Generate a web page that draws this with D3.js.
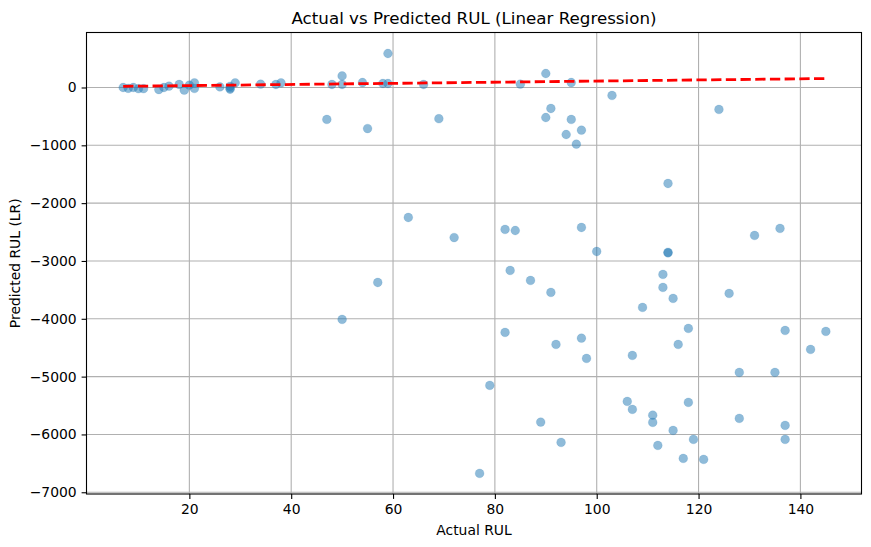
<!DOCTYPE html>
<html>
<head>
<meta charset="utf-8">
<script src="https://cdn.jsdelivr.net/npm/d3@7"></script>
<style>
  body { margin: 0; background: #fff; }
  text { font-family: "DejaVu Sans", sans-serif; }
</style>
</head>
<body>
<script>
// actual RUL vs predicted RUL (linear regression)
var actual = [7, 8, 9, 10, 11, 14, 15, 16, 18, 19, 20, 21, 21, 26, 28, 28, 28, 29, 34, 37, 38,
              47, 48, 50, 50, 54, 55, 58, 59, 59, 66, 69,
              85, 90, 95, 91, 90, 95, 97, 94, 96, 103, 124, 114,
              63, 57, 50, 72, 82, 84, 97, 100, 114, 114, 131, 136,
              83, 87, 91, 113, 113, 115, 109, 126,
              82, 92, 97, 98, 107, 116, 118, 137, 145, 142, 128, 135, 79,
              106, 107, 118, 111, 111, 128, 137, 137, 115, 119, 112, 117, 121, 89, 93, 77];
var predicted = [0, -15, 0, -20, -20, -35, 0, 22, 52, -47, 40, 80, -17, 10, 20, -10, -30, 80, 57, 52, 80,
                 -553, 52, 200, 52, 86, -710, 69, 588, 69, 52, -540,
                 57, 242, 86, -363, -519, -553, -738, -813, -980, -138, -380, -1660,
                 -2248, -3372, -4011, -2595, -2455, -2473, -2421, -2836, -2860, -2850, -2559, -2438,
                 -3164, -3337, -3544, -3233, -3458, -3648, -3804, -3562,
                 -4236, -4444, -4335, -4686, -4634, -4444, -4167, -4202, -4219, -4530, -4928, -4928, -5152,
                 -5429, -5567, -5446, -5666, -5792, -5723, -5844, -6086, -5931, -6086, -6190, -6415, -6432, -5787, -6138, -6674];

// fitted line drawn as red dashes
var fitX = [7, 145];
var fitY = [20, 155];

var xTicks = [20, 40, 60, 80, 100, 120, 140];
var yTicks = [0, -1000, -2000, -3000, -4000, -5000, -6000, -7000];
var xLimits = [-0.2, 152];
var yLimits = [-7030, 951];

var width = 871, height = 547;
var margin = { top: 32.5, right: 9.5, bottom: 53, left: 86.5 };

var svg = d3.select("body").append("svg")
            .attr("width", width)
            .attr("height", height);

var x = d3.scaleLinear().domain(xLimits).range([margin.left, width - margin.right]);
var y = d3.scaleLinear().domain(yLimits).range([height - margin.bottom, margin.top]);

// grid
svg.append("g")
   .classed("grid", true)
   .selectAll("line.vx")
   .data(xTicks)
   .enter()
     .append("line")
     .attr("x1", function(d) { return x(d); })
     .attr("x2", function(d) { return x(d); })
     .attr("y1", margin.top)
     .attr("y2", height - margin.bottom)
     .attr("stroke", "#b0b0b0")
     .attr("stroke-width", 1.1);

svg.select("g.grid")
   .selectAll("line.hy")
   .data(yTicks)
   .enter()
     .append("line")
     .attr("x1", margin.left)
     .attr("x2", width - margin.right)
     .attr("y1", function(d) { return y(d); })
     .attr("y2", function(d) { return y(d); })
     .attr("stroke", "#b0b0b0")
     .attr("stroke-width", 1.1);

// points
svg.append("g")
   .selectAll("circle")
   .data(actual)
   .enter()
     .append("circle")
     .attr("cx", function(d) { return x(d); })
     .attr("cy", function(d, i) { return y(predicted[i]); })
     .attr("r", 4.4)
     .attr("fill", "#1f77b4")
     .attr("fill-opacity", 0.5)
     .attr("stroke", "#1f77b4")
     .attr("stroke-opacity", 0.15)
     .attr("stroke-width", 1);

// fitted line
var line = d3.line()
             .x(function(d) { return x(d); })
             .y(function(d, i) { return y(fitY[i]); });
svg.append("path")
   .datum(fitX)
   .attr("d", line)
   .attr("fill", "none")
   .attr("stroke", "red")
   .attr("stroke-width", 2.8)
   .attr("stroke-dasharray", "10.3,4.4");

// axes
var xAxis = d3.axisBottom(x).tickValues(xTicks).tickSizeOuter(0).tickSize(4.9).tickPadding(4.9)
              .tickFormat(d3.format("d"));
var yAxis = d3.axisLeft(y).tickValues(yTicks).tickSizeOuter(0).tickSize(4.9).tickPadding(4.9)
              .tickFormat(d3.format("d"));

var gx = svg.append("g")
   .attr("transform", "translate(0," + (height - margin.bottom) + ")")
   .call(xAxis);
var gy = svg.append("g")
   .attr("transform", "translate(" + margin.left + ",0)")
   .call(yAxis);

[gx, gy].forEach(function(g) {
    g.select(".domain").remove();
    g.selectAll("line").attr("stroke", "#000").attr("stroke-width", 1.1);
    g.selectAll("text").attr("font-size", "13.9px").attr("fill", "#000")
     .style("font-family", "'DejaVu Sans', sans-serif");
});

// frame
svg.append("rect")
   .attr("x", margin.left)
   .attr("y", margin.top)
   .attr("width", width - margin.left - margin.right)
   .attr("height", height - margin.top - margin.bottom)
   .attr("fill", "none")
   .attr("stroke", "#000")
   .attr("stroke-width", 1.1);

// labels
svg.append("text")
   .attr("x", (margin.left + width - margin.right) / 2)
   .attr("y", 24)
   .attr("text-anchor", "middle")
   .attr("font-size", "16.7px")
   .text("Actual vs Predicted RUL (Linear Regression)");

svg.append("text")
   .attr("x", (margin.left + width - margin.right) / 2)
   .attr("y", 535)
   .attr("text-anchor", "middle")
   .attr("font-size", "13.9px")
   .text("Actual RUL");

svg.append("text")
   .attr("transform", "translate(20," + ((margin.top + height - margin.bottom) / 2) + ") rotate(-90)")
   .attr("text-anchor", "middle")
   .attr("font-size", "13.9px")
   .text("Predicted RUL (LR)");
</script>
</body>
</html>
